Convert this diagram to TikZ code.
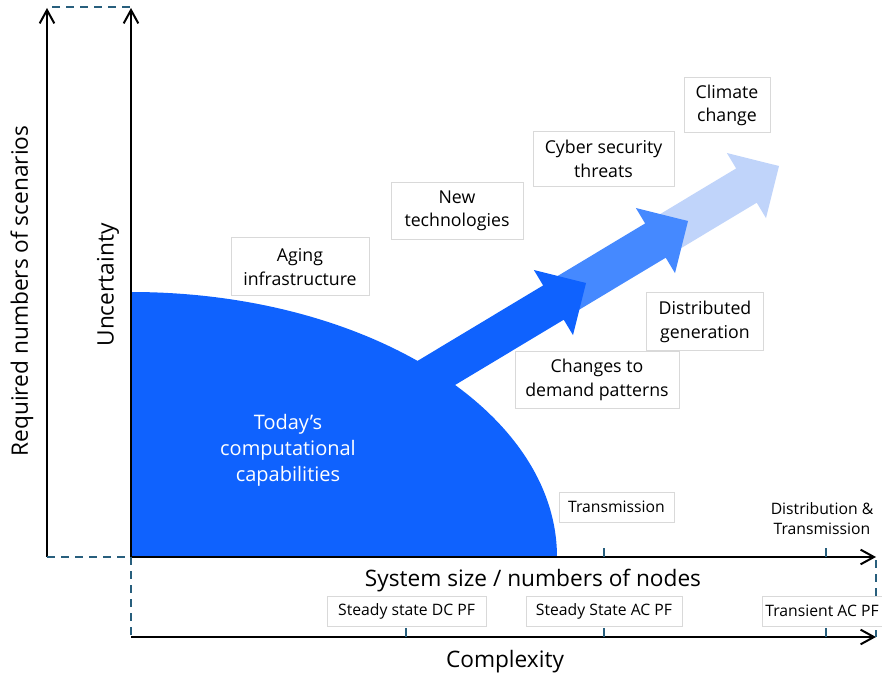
\documentclass[tikz,border=0pt]{standalone}
\usepackage{fontspec}
\setmainfont{Open Sans}
\usetikzlibrary{arrows.meta}
\definecolor{todayblue}{RGB}{15,98,254}
\definecolor{midblue}{RGB}{69,137,255}
\definecolor{paleblue}{RGB}{192,212,250}
\definecolor{axisteal}{RGB}{40,95,125}
\definecolor{boxgray}{RGB}{217,217,217}
\tikzset{
  sizeaxis/.style={line width=1.5pt, -{Straight Barb[length=10pt,width=11pt]}},
  guide/.style={axisteal, line width=1.5pt, dash pattern=on 6pt off 4.5pt},
  tickmark/.style={axisteal, line width=1.5pt},
  factor/.style 2 args={draw=boxgray, fill=white, line width=0.75pt, align=center,
    minimum width=#1, minimum height=#2, inner sep=0pt, font=\fontsize{13.3}{17.5}\selectfont},
  small/.style={align=center, font=\fontsize{11.8}{15}\selectfont},
  axislabel/.style={font=\fontsize{17}{20}\selectfont},
}
\begin{document}
\begin{tikzpicture}[x=0.75pt, y=-0.75pt]
  \def\flow#1#2#3{\fill[#3, shift={#1}, rotate=31] (0,0) -- (-38,38) -- (-38,20) -- (-#2,20) -- (-#2,-20) -- (-38,-20) -- (-38,-38) -- cycle;}
  \useasboundingbox (0,0) rectangle (882,677);

  \coordinate (origin) at (131,557);
  \coordinate (outer) at (47,557);
  \coordinate (lowaxis) at (131,637);

  \fill[todayblue] (origin) -- (131,292) arc[start angle=-90, end angle=0, x radius=426, y radius=265] -- cycle; %A: Today's capabilities

  \flow{(779,166)}{140}{paleblue} %A: Trend arrows, back to front
  \flow{(688,221)}{150}{midblue}
  \flow{(586,283)}{210}{todayblue}

  \draw[sizeaxis] (outer) -- (47,8); %A: Axes
  \draw[sizeaxis] (origin) -- (131,8);
  \draw[sizeaxis] (origin) -- (876,557);
  \draw[sizeaxis] (lowaxis) -- (876,637);

  \draw[guide] (52,7) -- (131,7); %A: Dashed links
  \draw[guide] (outer) -- (origin) -- (lowaxis);
  \draw[guide] (876,560) -- (876,637);

  \foreach \x in {604,826} \draw[tickmark] (\x,557) -- ++(0,-9);
  \foreach \x in {406,604,826} \draw[tickmark] (\x,637) -- ++(0,-9);

  \node[text=white, align=center, font=\fontsize{15}{19.5}\selectfont] (today) at (288,450) {Today’s\\computational\\capabilities};

  \node[factor={103.5pt}{43.5pt}] (aging) at (300,267) {Aging\\infrastructure};
  \node[factor={99pt}{42.75pt}] (newtech) at (457,211) {New\\technologies};
  \node[factor={105.75pt}{41.25pt}] (cyber) at (603.5,159) {Cyber security\\threats};
  \node[factor={64.5pt}{41.25pt}] (climate) at (727,105.5) {Climate\\change};
  \node[factor={87.75pt}{43.5pt}] (distgen) at (705,322) {Distributed\\generation};
  \node[factor={123pt}{42.75pt}] (demand) at (597,380) {Changes to\\demand patterns};

  \node[factor={86.25pt}{22.5pt}, small] (transmission) at (616.5,507) {Transmission};
  \node[small] (both) at (822,519) {Distribution \&\\Transmission};
  \node[factor={119.25pt}{22.5pt}, small] (dcpf) at (406.5,611) {Steady state DC PF};
  \node[factor={117pt}{22.5pt}, small] (acpf) at (604,611) {Steady State AC PF};
  \node[factor={90pt}{22.5pt}, small] (transient) at (822,611) {Transient AC PF};

  \node[axislabel] (sizelabel) at (533,581) {System size / numbers of nodes};
  \node[axislabel] (complexity) at (505,662) {Complexity};
  \node[axislabel, rotate=90] (uncertainty) at (108,285) {Uncertainty};
  \node[axislabel, rotate=90] (scenarios) at (22,291) {Required numbers of scenarios};
\end{tikzpicture}
\end{document}
